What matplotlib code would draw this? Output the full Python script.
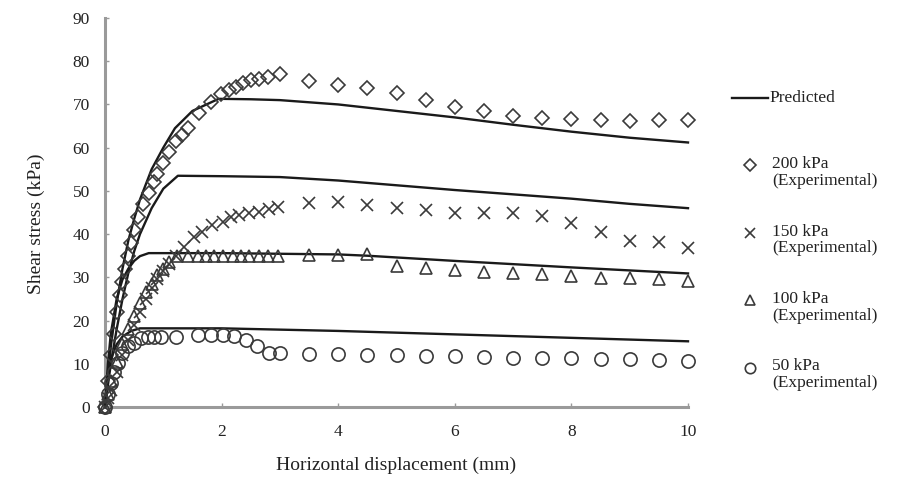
import matplotlib
matplotlib.use("Agg")
import matplotlib.pyplot as plt
from matplotlib.lines import Line2D

plt.rcParams['font.family'] = ['Liberation Serif', 'DejaVu Serif']

# Predicted curves (kPa vs mm)
pred_200_x = [0, 0.1, 0.2, 0.3, 0.4, 0.5, 0.6, 0.8, 1.0, 1.2, 1.5, 1.95, 2.5, 3, 4, 5, 6, 7, 8, 9, 10]
pred_200_y = [0, 14, 24, 32, 38.5, 43.5, 48, 55, 60, 64.5, 68.5, 71.3, 71.2, 71, 70, 68.5, 67, 65.3, 63.7, 62.3, 61.2]
pred_150_x = [0, 0.1, 0.2, 0.3, 0.4, 0.5, 0.6, 0.8, 1.0, 1.25, 2, 3, 4, 5, 6, 7, 8, 9, 10]
pred_150_y = [0, 10, 18, 25, 31, 36, 40, 46, 50.5, 53.5, 53.4, 53.2, 52.4, 51.3, 50.2, 49.2, 48.2, 47, 46]
pred_100_x = [0, 0.05, 0.1, 0.2, 0.3, 0.4, 0.5, 0.6, 0.75, 2, 4, 4.5, 6, 8, 10]
pred_100_y = [0, 10, 17, 25, 29.5, 32, 33.8, 34.9, 35.6, 35.6, 35.3, 35, 33.8, 32.3, 30.9]
pred_50_x = [0, 0.05, 0.1, 0.2, 0.3, 0.45, 0.6, 2, 4, 6, 8, 10]
pred_50_y = [0, 7, 11, 14.5, 16.3, 17.6, 18.2, 18.2, 17.6, 16.8, 16, 15.2]

# Experimental data
exp_200_x = [0, 0.05, 0.1, 0.15, 0.2, 0.25, 0.3, 0.35, 0.4, 0.45, 0.5, 0.56, 0.65, 0.76, 0.84,
             0.9, 0.99, 1.1, 1.22, 1.32, 1.42, 1.62, 1.82, 1.99, 2.12, 2.24, 2.37, 2.5, 2.64, 2.79,
             3.0, 3.5, 4.0, 4.5, 5.0, 5.5, 6.0, 6.5, 7.0, 7.5, 8.0, 8.5, 9.0, 9.5, 10]
exp_200_y = [0, 6, 12, 17, 22, 26, 29, 32, 35, 38, 41, 44, 47, 49.5, 52,
             54, 56.5, 59, 61.5, 63, 64.5, 68, 70.5, 72.5, 73.3, 74, 75, 75.7, 76, 76.4,
             77, 75.5, 74.5, 73.8, 72.6, 71.0, 69.4, 68.5, 67.3, 66.9, 66.6, 66.3, 66.2, 66.3, 66.4]

exp_150_x = [0, 0.05, 0.1, 0.2, 0.3, 0.4, 0.5, 0.6, 0.7, 0.8, 0.9, 1.0, 1.1, 1.22, 1.36,
             1.53, 1.67, 1.84, 2.02, 2.16, 2.3, 2.47, 2.64, 2.81, 2.96,
             3.5, 4.0, 4.5, 5.0, 5.5, 6.0, 6.5, 7.0, 7.5, 8.0, 8.5, 9.0, 9.5, 10]
exp_150_y = [0, 2, 4, 8, 12, 15.5, 19, 22, 25, 27.5, 29.5, 31.5, 33, 35, 37.1,
             39.4, 40.6, 42.1, 42.9, 44, 44.4, 44.8, 45.2, 45.7, 46.2,
             47.2, 47.4, 46.8, 46.0, 45.5, 45.0, 45.0, 44.8, 44.2, 42.6, 40.5, 38.4, 38.2, 36.8]

exp_100_x = [0, 0.05, 0.1, 0.2, 0.3, 0.4, 0.5, 0.6, 0.7, 0.8, 0.9, 1.0, 1.1,
             1.24, 1.42, 1.59, 1.73, 1.87, 2.02, 2.19, 2.33, 2.47, 2.64, 2.79, 2.96,
             3.5, 4.0, 4.5, 5.0, 5.5, 6.0, 6.5, 7.0, 7.5, 8.0, 8.5, 9.0, 9.5, 10]
exp_100_y = [0, 3, 6, 10.5, 14.5, 18, 21, 24, 26.5, 28.5, 30.5, 32, 33.5,
             35, 35, 35, 35, 35, 35, 35, 35, 35, 35, 35, 35,
             35.2, 35.2, 35.3, 32.6, 32.1, 31.7, 31.3, 31.1, 30.8, 30.4, 29.9, 29.8, 29.5, 29.2]

exp_50_x = [0, 0.05, 0.1, 0.15, 0.22, 0.3, 0.39, 0.5, 0.62, 0.73, 0.84, 0.96, 1.22,
            1.59, 1.82, 2.02, 2.21, 2.41, 2.61, 2.81, 3.01,
            3.5, 4.0, 4.5, 5.0, 5.5, 6.0, 6.5, 7.0, 7.5, 8.0, 8.5, 9.0, 9.5, 10]
exp_50_y = [0, 3, 5.5, 8, 10.1, 12.4, 14.0, 14.7, 15.9, 16.2, 16.3, 16.3, 16.3,
            16.7, 16.7, 16.7, 16.4, 15.5, 14.0, 12.6, 12.4,
            12.3, 12.3, 12.0, 12.0, 11.7, 11.7, 11.6, 11.4, 11.4, 11.4, 11.2, 11.0, 10.9, 10.6]

x_ticks = [0, 2, 4, 6, 8, 10]
y_ticks = [0, 10, 20, 30, 40, 50, 60, 70, 80, 90]

series_labels = ['200 kPa\n(Experimental)', '150 kPa\n(Experimental)',
                 '100 kPa\n(Experimental)', '50 kPa\n(Experimental)']
series_markers = ['D', 'x', '^', 'o']

text_col = '#222222'
mark_col = '#3a3a3a'
line_col = '#1a1a1a'
spine_col = '#9a9a9a'

W, H = 907, 479
fig = plt.figure(figsize=(W / 100, H / 100), dpi=100)
ax = fig.add_axes([105 / W, 1 - 407 / H, 583 / W, 389 / H])

for px, py in [(pred_200_x, pred_200_y), (pred_150_x, pred_150_y),
               (pred_100_x, pred_100_y), (pred_50_x, pred_50_y)]:
    ax.plot(px, py, color=line_col, lw=1.7, zorder=3, clip_on=False)

mk = dict(linestyle='none', markerfacecolor='none', markeredgecolor=mark_col,
          markeredgewidth=1.2, zorder=4, clip_on=False)
ax.plot(exp_200_x, exp_200_y, marker='D', ms=7, **mk)
ax.plot(exp_150_x, exp_150_y, marker='x', ms=8.5, **mk)
ax.plot(exp_100_x, exp_100_y, marker='^', ms=9, **mk)
ax.plot(exp_50_x, exp_50_y, marker='o', ms=9.5, **mk)

ax.set_xlim(0, 10)
ax.set_ylim(0, 90)
ax.set_xticks(x_ticks)
ax.set_yticks(y_ticks)
ax.tick_params(direction='in', length=3, width=1, color=spine_col, labelsize=12.5,
               labelcolor=text_col)
ax.tick_params(axis='y', pad=11)
ax.tick_params(axis='x', pad=12)
for s in ['top', 'right']:
    ax.spines[s].set_visible(False)
for s in ['left', 'bottom']:
    ax.spines[s].set_color(spine_col)
    ax.spines[s].set_linewidth(2.2)
ax.set_xlabel('Horizontal displacement (mm)', fontsize=14, color=text_col, labelpad=12)
ax.set_ylabel('Shear stress (kPa)', fontsize=14, color=text_col, labelpad=20, y=0.47)

# legend drawn by hand on the right side
fig.add_artist(Line2D([732 / W, 768 / W], [1 - 98 / H, 1 - 98 / H], color=line_col,
                      lw=1.7, transform=fig.transFigure))
fig.text(769 / W, 1 - 98 / H, 'Predicted', fontsize=12.5, color=text_col, va='center')
for i, (lab, m) in enumerate(zip(series_labels, series_markers)):
    yy = 165 + i * 67.5
    ms = 6 if m == 'D' else 7.5
    fig.add_artist(Line2D([750 / W], [1 - yy / H], marker=m, ms=ms, linestyle='none',
                          markerfacecolor='none', markeredgecolor=mark_col,
                          markeredgewidth=1.2, transform=fig.transFigure))
    fig.text(772 / W, 1 - (yy - 9) / H, lab, fontsize=12.5, color=text_col,
             va='top', linespacing=1.05)

fig.savefig('out.png', dpi=100, facecolor='white')
